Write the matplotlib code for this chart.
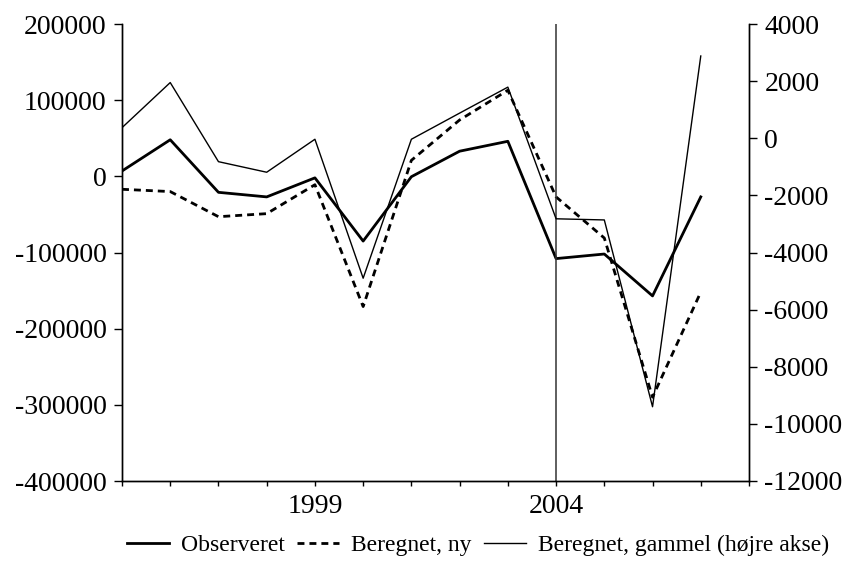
import matplotlib
matplotlib.use("Agg")
import matplotlib.pyplot as plt

plt.rcParams['font.family'] = ['Liberation Serif', 'DejaVu Serif']
plt.rcParams['axes.unicode_minus'] = False

years = list(range(1995, 2008))
observeret = [7000, 48000, -21000, -27000, -2000, -85000, -500, 33000, 46000, -108000, -102000, -157000, -27000]
beregnet_ny = [-17000, -20000, -53000, -49000, -11000, -171000, 21000, 74000, 113000, -27000, -81000, -290000, -152000]
beregnet_gammel = [370, 1950, -820, -1190, -35, -4900, -35, 880, 1790, -2820, -2860, -9400, 2880]

tick_years = list(range(1995, 2009))
labelled_years = [1999, 2004]

fig = plt.figure(figsize=(8.47, 5.61), dpi=100)
ax = fig.add_axes([122/847, 1 - 481/561, (749 - 122)/847, (481 - 24)/561])
ax2 = ax.twinx()

l1, = ax.plot(years, observeret, color='black', lw=2.0, label="Observeret")
l2, = ax.plot(years, beregnet_ny, color='black', lw=2.0, dashes=(2.5, 1.8), label="Beregnet, ny")
l3, = ax2.plot(years, beregnet_gammel, color='black', lw=1.0, label="Beregnet, gammel (højre akse)")

ax.axvline(2004, color='#333333', lw=1.1)

ax.set_xlim(1995, 2008)
ax.set_ylim(-400000, 200000)
ax2.set_ylim(-12000, 4000)
ax.set_yticks(range(-400000, 200001, 100000))
ax2.set_yticks(range(-12000, 4001, 2000))
ax.set_xticks(tick_years)
ax.set_xticklabels([str(y) if y in labelled_years else "" for y in tick_years])

for a in (ax, ax2):
    a.spines['top'].set_visible(False)
    for s in a.spines.values():
        s.set_linewidth(1.0)

ax.tick_params(axis='y', direction='out', length=6, width=1, pad=5, labelsize=20)
ax2.tick_params(axis='y', direction='out', length=6, width=1, pad=5, labelsize=20)
ax.tick_params(axis='x', direction='out', length=3.5, width=1, pad=6, labelsize=20)

fig.legend(handles=[l1, l2, l3], loc='center', bbox_to_anchor=(478/847, 1 - 545/561),
           ncol=3, frameon=False, fontsize=17, handlelength=1.8,
           handletextpad=0.5, columnspacing=0.5, borderpad=0)

fig.savefig("out.png", dpi=100)
